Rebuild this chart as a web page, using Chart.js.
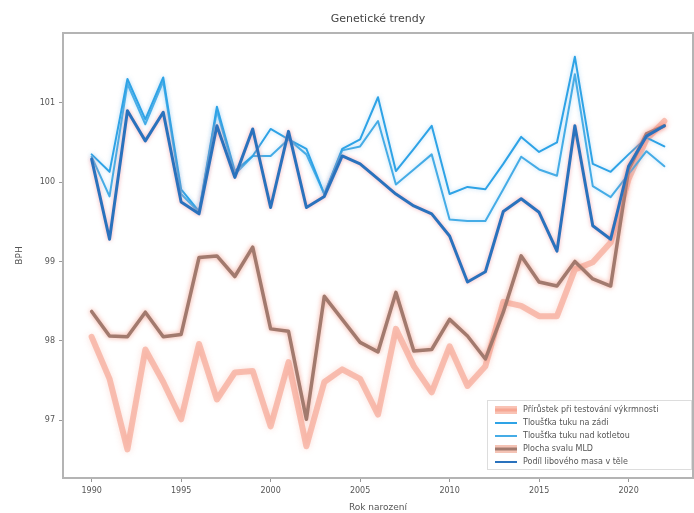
<!DOCTYPE html>
<html lang="cs">
<head>
<meta charset="utf-8">
<title>Genetické trendy</title>
<script src="https://cdn.jsdelivr.net/npm/chart.js@4.4.1/dist/chart.umd.min.js"></script>
<style>
  html, body { margin: 0; padding: 0; background: #ffffff; }
  canvas { display: block; }
</style>
</head>
<body>
<canvas id="trends" width="694" height="513"></canvas>
<script>
const years = [1990, 1991, 1992, 1993, 1994, 1995, 1996, 1997, 1998, 1999,
  2000, 2001, 2002, 2003, 2004, 2005, 2006, 2007, 2008, 2009,
  2010, 2011, 2012, 2013, 2014, 2015, 2016, 2017, 2018, 2019,
  2020, 2021, 2022];

const xTicks = [1990, 1995, 2000, 2005, 2010, 2015, 2020];
const yTicks = [97, 98, 99, 100, 101];

const labels = [
  "Přírůstek při testování výkrmnosti",
  "Tloušťka tuku na zádi",
  "Tloušťka tuku nad kotletou",
  "Plocha svalu MLD",
  "Podíl libového masa v těle"
];

const prirustek = [98.05, 97.52, 96.63, 97.89, 97.48, 97.01, 97.96, 97.26, 97.60, 97.62,
  96.92, 97.73, 96.67, 97.48, 97.64, 97.52, 97.07, 98.15, 97.68, 97.35,
  97.93, 97.43, 97.68, 98.49, 98.44, 98.31, 98.31, 98.90, 98.99, 99.24,
  100.04, 100.54, 100.77];

const tukZad = [100.35, 100.13, 101.30, 100.79, 101.32, 99.91, 99.63, 100.95, 100.14, 100.33,
  100.67, 100.54, 100.42, 99.85, 100.42, 100.54, 101.07, 100.14, 100.42, 100.71,
  99.85, 99.94, 99.91, 100.23, 100.57, 100.38, 100.50, 101.58, 100.23, 100.13,
  100.35, 100.56, 100.45];

const tukKotleta = [100.32, 99.82, 101.24, 100.73, 101.27, 99.85, 99.62, 100.90, 100.10, 100.33,
  100.33, 100.54, 100.35, 99.85, 100.40, 100.45, 100.77, 99.97, 100.16, 100.35,
  99.53, 99.51, 99.51, 99.91, 100.32, 100.16, 100.08, 101.36, 99.95, 99.81,
  100.10, 100.39, 100.20];

const plochaMLD = [98.37, 98.06, 98.05, 98.36, 98.05, 98.08, 99.05, 99.07, 98.81, 99.18,
  98.15, 98.12, 97.01, 98.56, 98.27, 97.98, 97.86, 98.61, 97.87, 97.89,
  98.27, 98.06, 97.77, 98.36, 99.07, 98.74, 98.69, 99.00, 98.78, 98.69,
  100.16, 100.61, 100.71];

const podilMasa = [100.29, 99.28, 100.90, 100.52, 100.88, 99.75, 99.60, 100.71, 100.06, 100.67,
  99.68, 100.64, 99.68, 99.82, 100.33, 100.23, 100.04, 99.85, 99.70, 99.60,
  99.32, 98.74, 98.87, 99.63, 99.79, 99.62, 99.13, 100.71, 99.45, 99.28,
  100.20, 100.58, 100.71];

function points(values) {
  return values.map((v, i) => ({ x: years[i], y: v }));
}

const gray = '#b4b4b4';
const textGray = '#555555';

// soft pinkish glow behind the lines, like in the picture
const glow = {
  id: 'glow',
  beforeDatasetDraw(chart, args) {
    const ds = chart.data.datasets[args.index];
    if (!ds.glowColor) return;
    chart.ctx.shadowColor = ds.glowColor;
    chart.ctx.shadowBlur = ds.glowBlur || 4;
  },
  afterDatasetDraw(chart) {
    chart.ctx.shadowColor = 'rgba(0,0,0,0)';
    chart.ctx.shadowBlur = 0;
  }
};

// frame, title and the legend box inside the plot
const decor = {
  id: 'decor',
  afterDraw(chart) {
    const ctx = chart.ctx;
    const a = chart.chartArea;
    ctx.save();
    ctx.strokeStyle = gray;
    ctx.lineWidth = 2;
    ctx.strokeRect(a.left, a.top, a.right - a.left, a.bottom - a.top);

    ctx.fillStyle = '#444444';
    ctx.font = '11px "DejaVu Sans"';
    ctx.textAlign = 'center';
    ctx.textBaseline = 'middle';
    ctx.fillText('Genetické trendy', (a.left + a.right) / 2, 19);

    const bx = a.right - 206, by = a.bottom - 78, bw = 204, bh = 69;
    ctx.fillStyle = 'rgba(255,255,255,0.85)';
    ctx.fillRect(bx, by, bw, bh);
    ctx.strokeStyle = '#dddddd';
    ctx.lineWidth = 1;
    ctx.strokeRect(bx + 0.5, by + 0.5, bw, bh);

    ctx.font = '8px "DejaVu Sans"';
    ctx.textAlign = 'left';
    chart.data.datasets.forEach((ds, i) => {
      const y = by + 10 + i * 13;
      const x = bx + 8;
      if (ds.patch) {
        ctx.fillStyle = ds.patch;
        ctx.fillRect(x, y - 4, 22, 8);
      }
      ctx.strokeStyle = ds.borderColor;
      ctx.lineWidth = ds.patch ? 3 : 2;
      ctx.beginPath();
      ctx.moveTo(x, y);
      ctx.lineTo(x + 22, y);
      ctx.stroke();
      ctx.fillStyle = textGray;
      ctx.fillText(ds.label, x + 28, y);
    });
    ctx.restore();
  }
};

new Chart(document.getElementById('trends'), {
  type: 'line',
  data: {
    datasets: [
      {
        label: labels[0],
        data: points(prirustek),
        borderColor: 'rgba(244,140,115,0.5)',
        patch: 'rgba(246,170,150,0.7)',
        borderWidth: 6,
        glowColor: 'rgba(245,150,130,0.6)',
        glowBlur: 6,
        order: 5
      },
      {
        label: labels[1],
        data: points(tukZad),
        borderColor: '#2ea3e6',
        borderWidth: 2,
        glowColor: 'rgba(120,190,240,0.5)',
        order: 3
      },
      {
        label: labels[2],
        data: points(tukKotleta),
        borderColor: '#45ace6',
        borderWidth: 2,
        glowColor: 'rgba(120,190,240,0.5)',
        order: 4
      },
      {
        label: labels[3],
        data: points(plochaMLD),
        borderColor: '#a27a6e',
        patch: 'rgba(240,170,150,0.7)',
        borderWidth: 3.5,
        glowColor: 'rgba(240,140,120,0.8)',
        glowBlur: 5,
        order: 2
      },
      {
        label: labels[4],
        data: points(podilMasa),
        borderColor: '#2a72bd',
        borderWidth: 3,
        glowColor: 'rgba(235,140,150,0.7)',
        glowBlur: 4,
        order: 1
      }
    ]
  },
  options: {
    responsive: false,
    animation: false,
    layout: { padding: { top: 33, right: 1, left: 0, bottom: 0 } },
    elements: {
      point: { radius: 0 },
      line: { tension: 0, borderJoinStyle: 'round', borderCapStyle: 'round' }
    },
    plugins: {
      legend: { display: false },
      title: { display: false },
      tooltip: { enabled: false }
    },
    scales: {
      x: {
        type: 'linear',
        min: 1988.4,
        max: 2023.6,
        afterBuildTicks: s => { s.ticks = xTicks.map(v => ({ value: v })); },
        afterFit: s => { s.height = 35; },
        border: { display: false },
        grid: { drawOnChartArea: false, tickLength: 4, color: '#999999', tickWidth: 1 },
        ticks: {
          color: textGray,
          font: { size: 8, family: 'DejaVu Sans' },
          padding: 4,
          maxRotation: 0,
          callback: v => String(v)
        },
        title: {
          display: true,
          text: 'Rok narození',
          color: textGray,
          font: { size: 9, family: 'DejaVu Sans' },
          padding: { top: 0, bottom: 0 }
        }
      },
      y: {
        min: 96.27,
        max: 101.88,
        afterBuildTicks: s => { s.ticks = yTicks.map(v => ({ value: v })); },
        afterFit: s => { s.width = 63; },
        border: { display: false },
        grid: { drawOnChartArea: false, tickLength: 4, color: '#999999', tickWidth: 1 },
        ticks: {
          color: textGray,
          font: { size: 8, family: 'DejaVu Sans' },
          padding: 4,
          callback: v => String(v)
        },
        title: {
          display: true,
          text: 'BPH',
          color: textGray,
          font: { size: 9, family: 'DejaVu Sans' },
          padding: { top: 14, bottom: 0 }
        }
      }
    }
  },
  plugins: [glow, decor]
});
</script>
</body>
</html>
